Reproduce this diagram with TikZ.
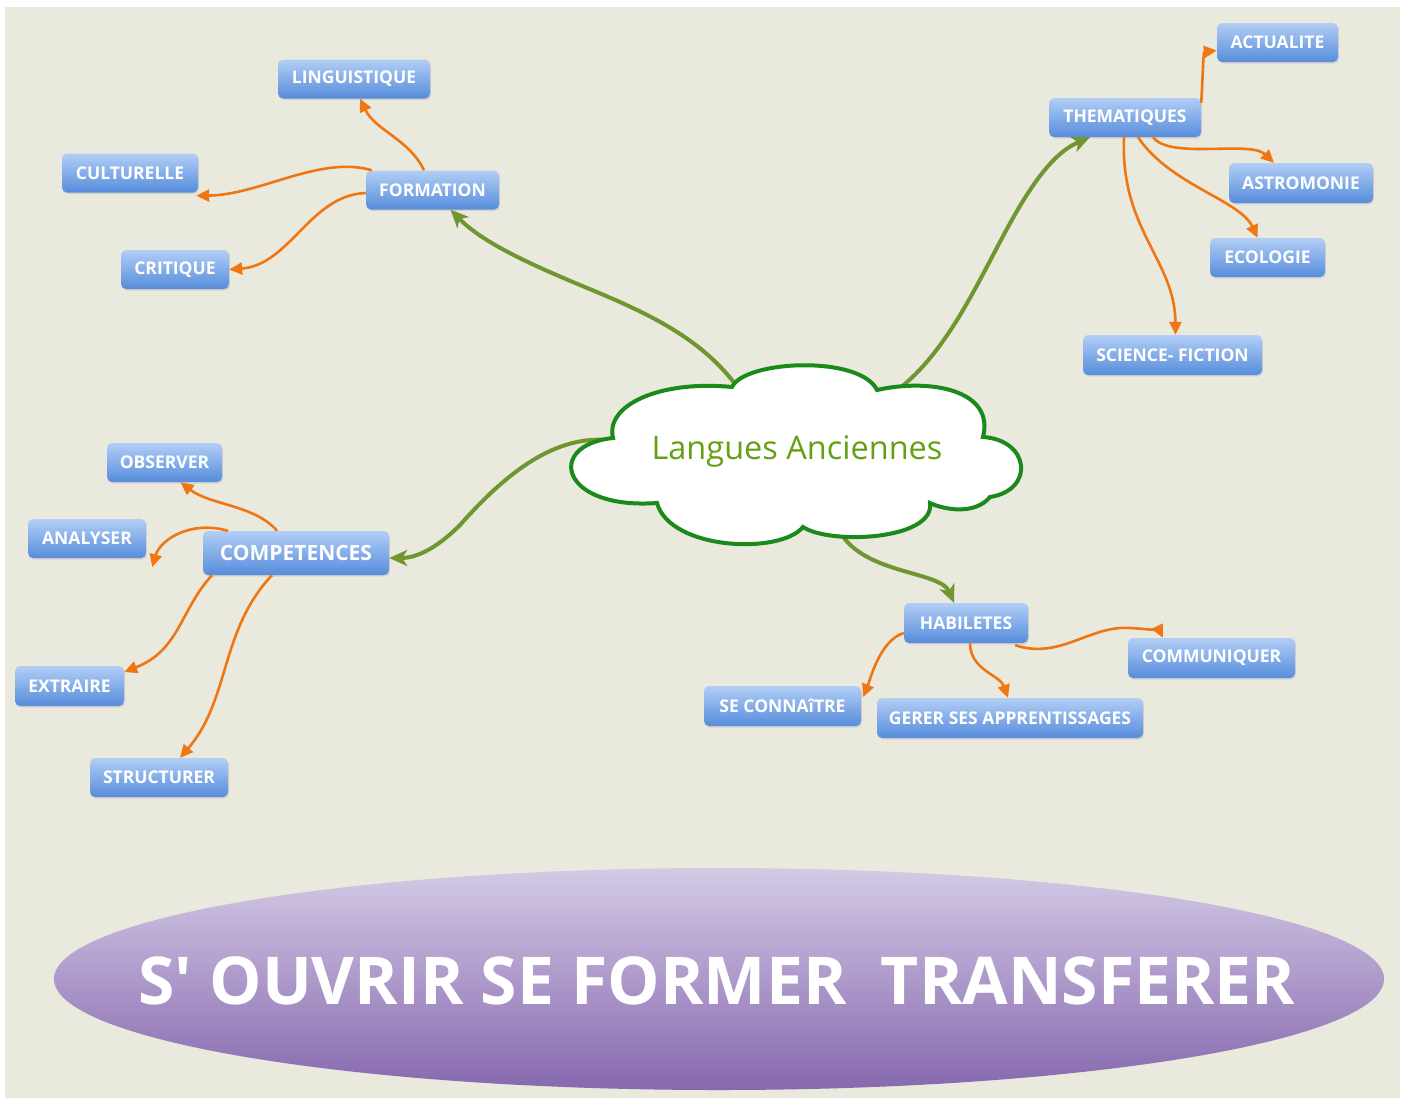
\documentclass[tikz,border=0pt]{standalone}
\usepackage{fontspec}
\setmainfont{Open Sans}
\newfontfamily\mottofont{Open Sans}[Ligatures=TeXOff]
\usetikzlibrary{arrows.meta,shapes.geometric,shadows}
\definecolor{bg}{RGB}{233,233,221}
\definecolor{boxtop}{RGB}{178,206,245}
\definecolor{boxbot}{RGB}{86,140,220}
\definecolor{gedge}{RGB}{112,150,48}
\definecolor{oedge}{RGB}{240,118,18}
\definecolor{cloudline}{RGB}{26,138,26}
\definecolor{cloudtext}{RGB}{100,160,20}
\definecolor{elltop}{RGB}{212,202,230}
\definecolor{ellbot}{RGB}{134,104,174}
\begin{document}
\begin{tikzpicture}[x=1pt,y=-1pt,
  boxbase/.style={rounded corners=5pt, top color=boxtop, bottom color=boxbot,
    text=white, font=\bfseries\fontsize{17.5}{17.5}\selectfont,
    minimum height=39pt, inner sep=0pt,
    drop shadow={shadow xshift=1pt,shadow yshift=-1.5pt,opacity=0.2}},
  bx/.style={boxbase, minimum width=#1pt},
  greenedge/.style={draw=gedge, line width=4pt, -{Stealth[length=18pt,width=16pt,inset=5pt]}},
  orangeedge/.style={draw=oedge, line width=2.6pt, -{Triangle[length=13pt,width=12pt]}}]
\useasboundingbox (0,0) rectangle (1407,1098);
\fill[white] (0,0) rectangle (1407,1098);
\fill[bg] (5,7) rectangle (1400,1098);

% boxes
\node[bx=152] (ling) at (354,79) {LINGUISTIQUE};
\node[bx=133] (form) at (432.5,190) {FORMATION};
\node[bx=136] (cult) at (130,173) {CULTURELLE};
\node[bx=108] (crit) at (175,269.5) {CRITIQUE};
\node[bx=152] (them) at (1125,117.5) {THEMATIQUES};
\node[bx=121] (actu) at (1277.5,42.5) {ACTUALITE};
\node[bx=144, minimum height=40pt] (astr) at (1301,183) {ASTROMONIE};
\node[bx=115] (ecol) at (1267.5,257.5) {ECOLOGIE};
\node[bx=179, minimum height=40pt] (scif) at (1172.5,355) {SCIENCE- FICTION};
\node[bx=115] (obse) at (164.5,462.5) {OBSERVER};
\node[bx=118] (anal) at (87,538.5) {ANALYSER};
\node[bx=186, minimum height=44pt, font=\bfseries\fontsize{21}{21}\selectfont] (comp) at (296,553) {COMPETENCES};
\node[bx=109, minimum height=40pt] (extr) at (69.5,686) {EXTRAIRE};
\node[bx=138] (stru) at (159,777.5) {STRUCTURER};
\node[bx=124, minimum height=40pt] (habi) at (966,623) {HABILETES};
\node[bx=167, minimum height=40pt] (comm) at (1211.5,658) {COMMUNIQUER};
\node[bx=157, minimum height=40pt] (seco) at (782.5,706) {SE CONNAîTRE};
\node[bx=266, minimum height=40pt] (gere) at (1010,718) {GERER SES APPRENTISSAGES};

% cloud anchor points
\coordinate (cF) at (738,388);
\coordinate (cT) at (900,388);
\coordinate (cC) at (608,440);
\coordinate (cH) at (838,528);

% green edges
\draw[greenedge] (cF) .. controls (700,335) and (640,310) .. (580,285)
  .. controls (520,260) and (480,240) .. ([xshift=18pt]form.south);
\draw[greenedge] (cT) .. controls (960,340) and (990,250) .. (1030,190)
  .. controls (1050,160) and (1065,148) .. ([xshift=-35pt]them.south);
\draw[greenedge] (cC) .. controls (550,435) and (500,480) .. (460,525)
  .. controls (435,550) and (415,558) .. ([yshift=-5pt]comp.east);
\draw[greenedge] (cH) .. controls (860,575) and (940,570) .. ([xshift=-12pt]habi.north);

% cloud
\filldraw[fill=white, draw=cloudline, line width=4pt]
  (613,438) .. controls (605,405) and (660,380) .. (732,387)
  .. controls (745,360) and (860,355) .. (877,390)
  .. controls (930,378) and (995,390) .. (983,437)
  .. controls (1030,440) and (1035,490) .. (990,497)
  .. controls (975,515) and (945,510) .. (930,503)
  .. controls (935,540) and (830,545) .. (803,527)
  .. controls (780,555) and (670,550) .. (657,503)
  .. controls (560,510) and (545,445) .. (613,438) -- cycle;
\node[text=cloudtext, font=\fontsize{32.5}{32.5}\selectfont] (lang) at (797,451) {Langues Anciennes};

% orange edges
\draw[orangeedge] ([xshift=-8.5pt]form.north) .. controls (410,140) and (375,130) .. ([xshift=6pt]ling.south);
\draw[orangeedge] ([xshift=6pt]form.north west) .. controls (320,155) and (260,195) .. ([shift={(-2pt,-3pt)}]cult.south east);
\draw[orangeedge] ([yshift=-3pt]form.west) .. controls (310,195) and (290,265) .. (crit.east);
\draw[orangeedge] ([yshift=-5pt]them.north east) .. controls (1203,75) and (1203,52) .. ([yshift=-8pt]actu.west);
\draw[orangeedge] ([xshift=28pt]them.south) .. controls (1170,160) and (1250,140) .. ([xshift=-27pt]astr.north);
\draw[orangeedge] ([xshift=13pt]them.south) .. controls (1170,185) and (1240,200) .. ([xshift=-10pt]ecol.north);
\draw[orangeedge] ([xshift=-1pt]them.south) .. controls (1120,230) and (1175,260) .. ([xshift=3pt]scif.north);
\draw[orangeedge] ([xshift=-19pt]comp.north) .. controls (255,505) and (210,505) .. ([xshift=16pt]obse.south);
\draw[orangeedge] ([xshift=-68pt]comp.north) .. controls (190,520) and (160,540) .. ([shift={(6pt,-9pt)}]anal.south east);
\draw[orangeedge] ([xshift=-84pt]comp.south) .. controls (180,610) and (180,650) .. ([yshift=14pt]extr.east);
\draw[orangeedge] ([xshift=-24pt]comp.south) .. controls (220,630) and (230,700) .. ([xshift=21pt]stru.north);
\draw[orangeedge] ([yshift=-10pt]habi.west) .. controls (880,640) and (870,680) .. ([shift={(2pt,9pt)}]seco.east);
\draw[orangeedge] ([xshift=4pt]habi.south) .. controls (970,670) and (1000,675) .. ([xshift=-2pt]gere.north);
\draw[orangeedge] ([shift={(-13pt,-2pt)}]habi.south east) .. controls (1060,660) and (1090,625) .. (1130,628)
  .. controls (1150,629) and (1160,632) .. ([xshift=35pt]comm.north west);

% bottom ellipse
\shade[top color=elltop, bottom color=ellbot] (719,979) ellipse [x radius=665, y radius=111];
\node[text=white, font=\mottofont\bfseries\fontsize{66}{66}\selectfont] (motto) at (717,981)
  {S' OUVRIR SE FORMER \ TRANSFERER};
\end{tikzpicture}
\end{document}
